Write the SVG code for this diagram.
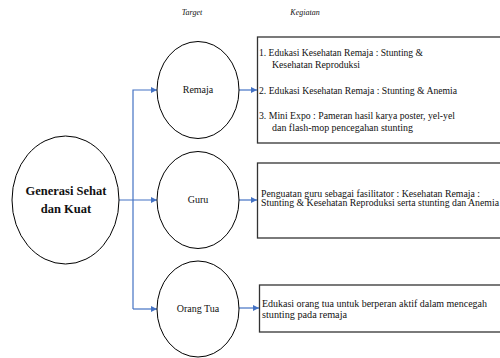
<svg xmlns="http://www.w3.org/2000/svg" width="500" height="358" viewBox="0 0 500 358">
<style>
.e{fill:#fff;stroke:#000;stroke-width:1}
.b{fill:#fff;stroke:#333;stroke-width:1.3}
.c{fill:none;stroke:#4472C4;stroke-width:1.2}
text{font-family:"Liberation Serif","DejaVu Serif",serif;fill:#111}
.t{font-size:9.5px}
.l{font-size:10px;text-anchor:middle}
.h{font-size:8px;font-style:italic;text-anchor:middle}
</style>
<defs>
<marker id="a" viewBox="0 0 10 10" refX="10" refY="5" markerWidth="6" markerHeight="6" markerUnits="userSpaceOnUse" orient="auto">
<path d="M0,0L10,5L0,10z" fill="#4472C4"/>
</marker>
</defs>
<text class="h" x="192" y="15">Target</text>
<text class="h" x="305" y="15">Kegiatan</text>
<g id="connectors">
<path class="c" d="M119,200H157" marker-end="url(#a)"/>
<path class="c" d="M133,309V90H157" marker-end="url(#a)"/>
<path class="c" d="M133,309H157" marker-end="url(#a)"/>
<path class="c" d="M239,90H257" marker-end="url(#a)"/>
<path class="c" d="M239,200H257" marker-end="url(#a)"/>
<path class="c" d="M239,308H259" marker-end="url(#a)"/>
</g>
<g id="generasi">
<ellipse class="e" cx="65.5" cy="200" rx="53.5" ry="64"/>
<text x="66" y="195" style="font-size:12.5px;font-weight:bold;text-anchor:middle">Generasi Sehat</text>
<text x="66" y="213" style="font-size:12.5px;font-weight:bold;text-anchor:middle">dan Kuat</text>
</g>
<g id="remaja">
<ellipse class="e" cx="198" cy="90" rx="41" ry="48.5"/>
<text class="l" x="198" y="93">Remaja</text>
</g>
<g id="guru">
<ellipse class="e" cx="198" cy="200" rx="41" ry="48.5"/>
<text class="l" x="198" y="203">Guru</text>
</g>
<g id="orangtua">
<ellipse class="e" cx="198" cy="309" rx="41" ry="48"/>
<text class="l" x="198" y="312">Orang Tua</text>
</g>
<g id="kegiatan-remaja">
<rect class="b" x="257.5" y="37" width="250" height="106"/>
<text class="t" x="259" y="56" textLength="164" lengthAdjust="spacingAndGlyphs">1. Edukasi Kesehatan Remaja : Stunting &amp;</text>
<text class="t" x="272" y="68" textLength="88" lengthAdjust="spacingAndGlyphs">Kesehatan Reproduksi</text>
<text class="t" x="259" y="94" textLength="198" lengthAdjust="spacingAndGlyphs">2. Edukasi Kesehatan Remaja : Stunting &amp; Anemia</text>
<text class="t" x="259" y="119" textLength="196" lengthAdjust="spacingAndGlyphs">3. Mini Expo : Pameran hasil karya poster, yel-yel</text>
<text class="t" x="272" y="131" textLength="141" lengthAdjust="spacingAndGlyphs">dan flash-mop pencegahan stunting</text>
</g>
<g id="kegiatan-guru">
<rect class="b" x="257.5" y="163" width="250" height="75"/>
<text class="t" x="261" y="197" textLength="219" lengthAdjust="spacingAndGlyphs">Penguatan guru sebagai fasilitator : Kesehatan Remaja :</text>
<text class="t" x="261" y="206" textLength="238" lengthAdjust="spacingAndGlyphs">Stunting &amp; Kesehatan Reproduksi serta stunting dan Anemia</text>
</g>
<g id="kegiatan-orangtua">
<rect class="b" x="259.5" y="285" width="250" height="47"/>
<text class="t" x="262" y="307" textLength="225" lengthAdjust="spacingAndGlyphs">Edukasi orang tua untuk berperan aktif dalam mencegah</text>
<text class="t" x="262" y="318" textLength="85" lengthAdjust="spacingAndGlyphs">stunting pada remaja</text>
</g>
</svg>
